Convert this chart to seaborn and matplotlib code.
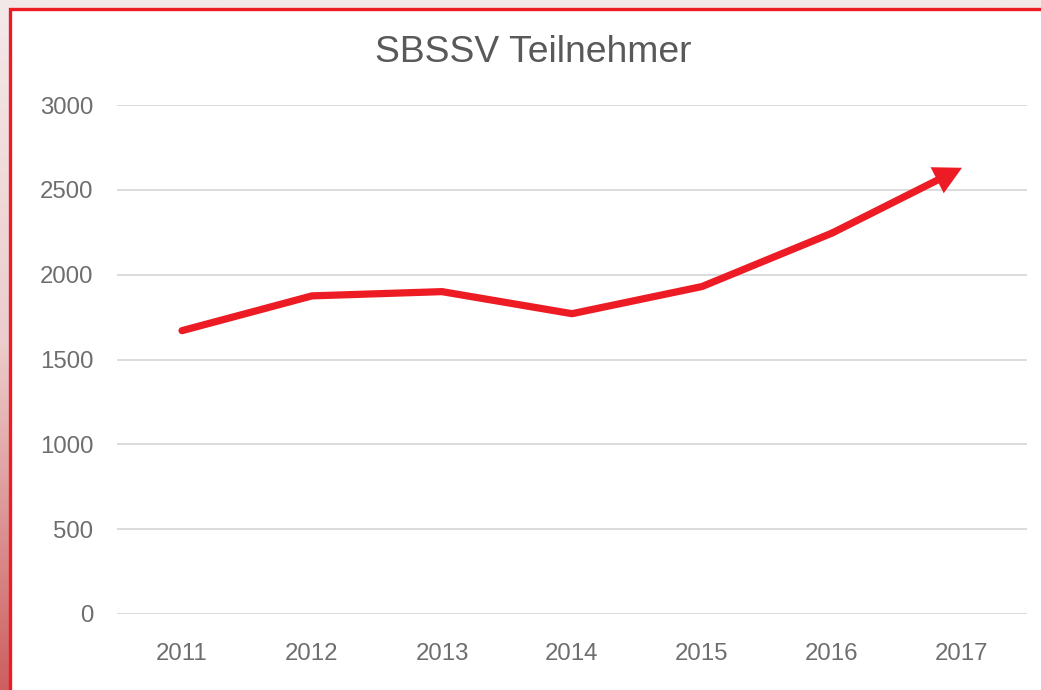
import numpy as np
import pandas as pd
import matplotlib
matplotlib.use("Agg")
import matplotlib.pyplot as plt
import seaborn as sns
from matplotlib.patches import Rectangle
from matplotlib.colors import LinearSegmentedColormap

years = ["2011", "2012", "2013", "2014", "2015", "2016", "2017"]
participants = [1670, 1875, 1900, 1770, 1930, 2245, 2630]

df = pd.DataFrame({"year": years, "participants": participants})

red = "#ed1c24"
grey = "#6e6e6e"

sns.set_theme(style="white")
plt.rcParams["font.family"] = ["Liberation Sans", "DejaVu Sans"]

fig = plt.figure(figsize=(10.41, 6.90), dpi=100)

# pinkish screenshot background behind the chart frame
bg = fig.add_axes([0, 0, 1, 1], zorder=-10)
grad = np.linspace(0, 1, 256).reshape(-1, 1)
cmap = LinearSegmentedColormap.from_list("bg", ["#f4e9e9", "#eccccc", "#cd5f5f"])
bg.imshow(grad, aspect="auto", extent=[0, 1, 0, 1], cmap=cmap)
bg.axis("off")

frame = Rectangle((10 / 1041, -0.1), 1.1, (690 - 9) / 690 + 0.1,
                  transform=fig.transFigure, facecolor="white",
                  edgecolor=red, linewidth=2.4, zorder=-5)
fig.add_artist(frame)

ax = fig.add_axes([117 / 1041, 76 / 690, 910 / 1041, 509 / 690])
ax.set_facecolor("none")

# line for all but the last segment, filled arrow for the last one
sns.lineplot(data=df.iloc[:-1], x="year", y="participants", ax=ax,
             color=red, linewidth=5.2, solid_capstyle="round",
             solid_joinstyle="round", sort=False)
ax.annotate("", xy=(len(years) - 1, participants[-1]),
            xytext=(len(years) - 2, participants[-2]),
            arrowprops=dict(arrowstyle="simple,head_length=1.0,head_width=1.05,tail_width=0.26",
                            mutation_scale=20, facecolor=red, edgecolor="none",
                            shrinkA=0, shrinkB=0))

ax.set_xlim(-0.5, len(years) - 0.5)
ax.set_ylim(0, 3000)
ax.set_yticks(range(0, 3001, 500))
ax.set_xticks(range(len(years)))
ax.set_xticklabels(years)
ax.grid(axis="y", color="#d9d9d9", linewidth=1.3)
ax.grid(axis="x", visible=False)
ax.set_axisbelow(True)
for s in ax.spines.values():
    s.set_visible(False)
ax.tick_params(axis="both", length=0, labelsize=17.3, labelcolor=grey)
ax.tick_params(axis="x", pad=21)
ax.tick_params(axis="y", pad=17)
ax.set_xlabel("")
ax.set_ylabel("")

fig.text(533 / 1041, 1 - 53 / 690, "SBSSV Teilnehmer", ha="center",
         va="center", fontsize=26.8, color="#595959")

fig.savefig("out.png", dpi=100)
